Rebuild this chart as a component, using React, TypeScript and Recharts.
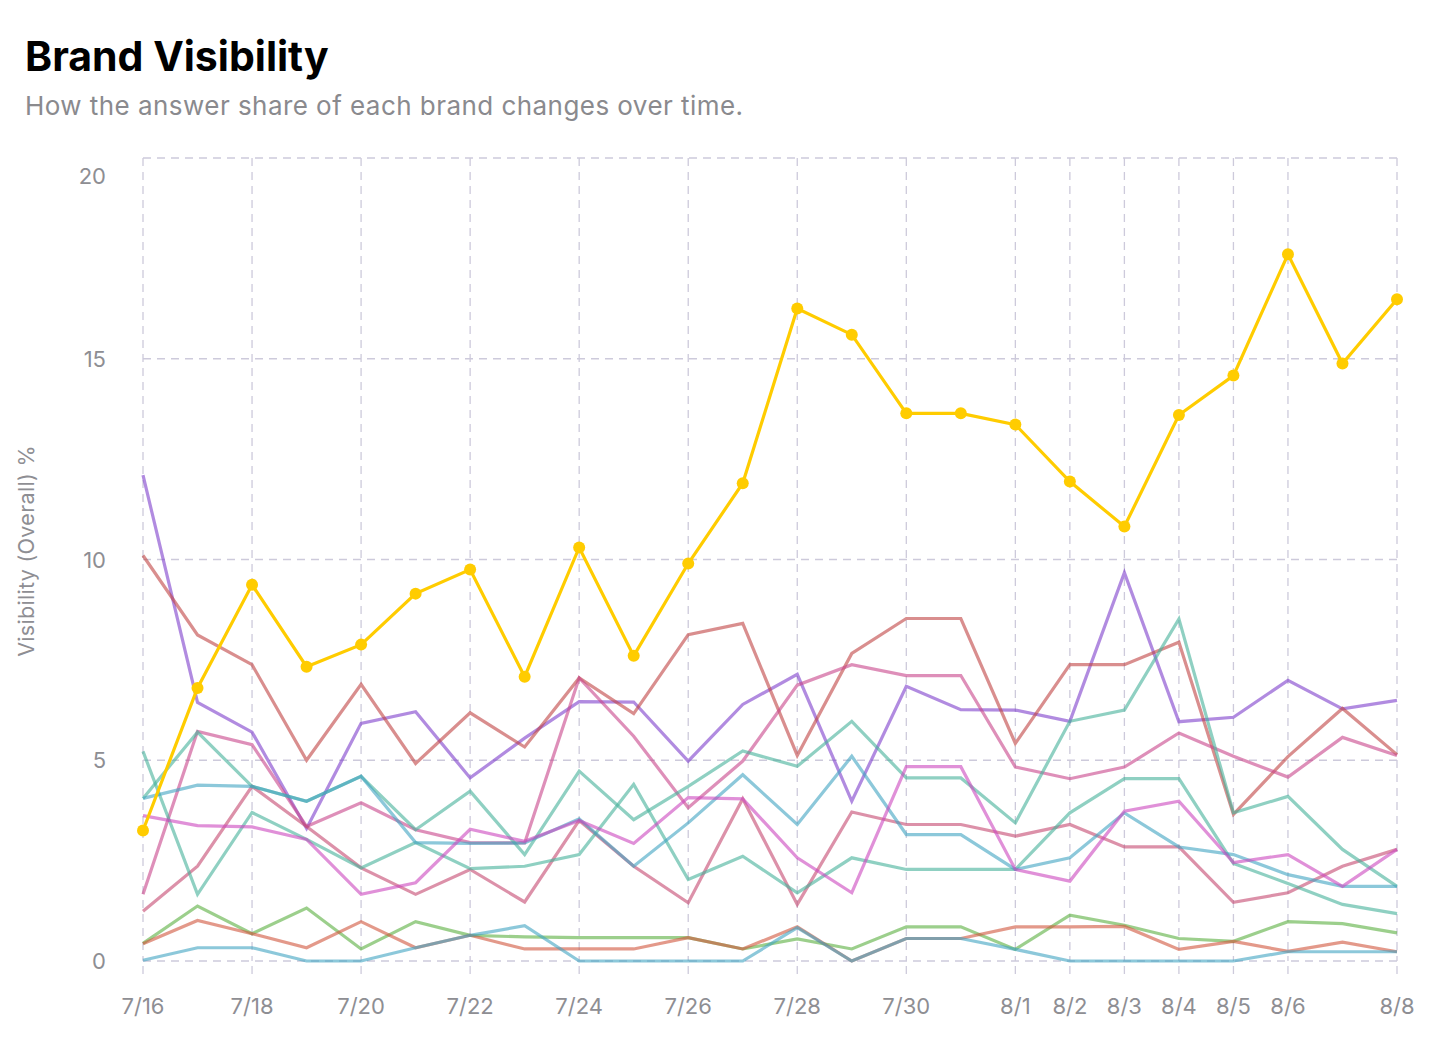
import React from 'react';
import { LineChart, Line, XAxis, YAxis, CartesianGrid, Label } from 'recharts';

// one point per day, 7/16 .. 8/8
const dates = [
  '7/16', '7/17', '7/18', '7/19', '7/20', '7/21', '7/22', '7/23', '7/24', '7/25', '7/26', '7/27',
  '7/28', '7/29', '7/30', '7/31', '8/1', '8/2', '8/3', '8/4', '8/5', '8/6', '8/7', '8/8',
];

const xTicks = ['7/16', '7/18', '7/20', '7/22', '7/24', '7/26', '7/28', '7/30', '8/1', '8/2', '8/3', '8/4', '8/5', '8/6', '8/8'];
const yTicks = [0, 5, 10, 15, 20];

const brandA = [3.25, 6.8, 9.37, 7.33, 7.88, 9.15, 9.75, 7.08, 10.3, 7.6, 9.9, 11.9, 16.25, 15.6, 13.64, 13.64, 13.36, 11.94, 10.82, 13.6, 14.58, 17.6, 14.88, 16.48];
const brandB = [12.1, 6.44, 5.7, 3.3, 5.92, 6.21, 4.56, 5.55, 6.46, 6.45, 4.98, 6.39, 7.14, 3.98, 6.84, 6.26, 6.25, 5.97, 9.67, 5.96, 6.07, 6.99, 6.28, 6.49];
const brandC = [10.1, 8.12, 7.38, 5.0, 6.89, 4.92, 6.18, 5.33, 7.05, 6.16, 8.13, 8.41, 5.12, 7.66, 8.53, 8.53, 5.42, 7.38, 7.38, 7.94, 3.65, 5.09, 6.29, 5.14];
const brandD = [1.66, 5.72, 5.39, 3.35, 3.94, 3.27, 2.95, 2.94, 7.05, 5.6, 3.82, 4.98, 6.87, 7.38, 7.11, 7.11, 4.83, 4.54, 4.83, 5.68, 5.1, 4.58, 5.57, 5.12];
const brandE = [1.24, 2.36, 4.35, 3.35, 2.32, 1.66, 2.28, 1.47, 3.5, 2.36, 1.45, 4.04, 1.41, 3.71, 3.4, 3.4, 3.11, 3.4, 2.84, 2.84, 1.46, 1.7, 2.36, 2.78];
const brandF = [5.22, 1.66, 3.7, 3.03, 2.32, 2.95, 2.3, 2.36, 2.65, 4.4, 2.03, 2.61, 1.7, 2.57, 2.28, 2.28, 2.28, 3.69, 4.54, 4.54, 2.43, 1.93, 1.41, 1.18];
const brandG = [4.05, 5.7, 4.35, 3.98, 4.6, 3.27, 4.23, 2.65, 4.73, 3.52, 4.35, 5.23, 4.85, 5.97, 4.56, 4.56, 3.44, 5.97, 6.25, 8.52, 3.69, 4.1, 2.78, 1.86];
const brandH = [4.05, 4.38, 4.35, 3.98, 4.6, 2.95, 2.93, 2.94, 3.54, 2.36, 3.44, 4.64, 3.4, 5.1, 3.15, 3.15, 2.28, 2.57, 3.69, 2.84, 2.65, 2.15, 1.86, 1.86];
const brandI = [3.62, 3.37, 3.34, 3.03, 1.66, 1.95, 3.28, 2.98, 3.5, 2.93, 4.07, 4.04, 2.57, 1.7, 4.84, 4.84, 2.28, 1.99, 3.73, 3.98, 2.45, 2.65, 1.86, 2.78];
const brandJ = [0.44, 1.37, 0.68, 1.32, 0.3, 0.98, 0.64, 0.6, 0.58, 0.58, 0.58, 0.3, 0.55, 0.3, 0.85, 0.85, 0.29, 1.14, 0.89, 0.56, 0.49, 0.98, 0.93, 0.7];
const brandK = [0.43, 1.01, 0.68, 0.33, 0.98, 0.33, 0.64, 0.3, 0.3, 0.3, 0.58, 0.3, 0.85, 0, 0.56, 0.56, 0.85, 0.85, 0.86, 0.29, 0.49, 0.24, 0.47, 0.23];
const brandL = [0.02, 0.33, 0.33, 0, 0, 0.33, 0.64, 0.88, 0, 0, 0, 0, 0.83, 0, 0.56, 0.56, 0.29, 0, 0, 0, 0, 0.23, 0.23, 0.23];

const others: [string, number[], string][] = [
  ['brandB', brandB, '#7d3ecb'],
  ['brandC', brandC, '#c04343'],
  ['brandD', brandD, '#c8448a'],
  ['brandE', brandE, '#c4476f'],
  ['brandF', brandF, '#44b199'],
  ['brandG', brandG, '#44b199'],
  ['brandH', brandH, '#3fa3c1'],
  ['brandI', brandI, '#cb46be'],
  ['brandJ', brandJ, '#5aaf3f'],
  ['brandK', brandK, '#d0553c'],
  ['brandL', brandL, '#3fa3c1'],
];

const data = dates.map((date, i) => {
  const row: Record<string, any> = { date, brandA: brandA[i] };
  others.forEach(([key, values]) => {
    row[key] = values[i];
  });
  return row;
});

const gridColor = '#cdcadb';
const tickColor = '#8e8e93';
const font = 'Inter, "Noto Sans", sans-serif';

const YTick = ({ x, y, payload }: any) => (
  <text
    x={x}
    y={payload.value === 20 ? y + 18 : y}
    textAnchor="end"
    dominantBaseline="central"
    fill={tickColor}
    fontSize={22}
    fontFamily={font}
  >
    {payload.value}
  </text>
);

const XTick = ({ x, y, payload }: any) => (
  <text x={x} y={y} dy="0.71em" textAnchor="middle" fill={tickColor} fontSize={22} fontFamily={font}>
    {payload.value}
  </text>
);

const App = () => {
  return (
    <div style={{ position: 'absolute', left: 0, top: 0, width: 1436, height: 1048, background: '#fff', fontFamily: font }}>
      <svg width={1436} height={140} style={{ position: 'absolute', left: 0, top: 0 }}>
        <text x={25} y={71} fontSize={41} fontWeight={700} fill="#000" fontFamily={font}>
          Brand Visibility
        </text>
        <text x={25} y={115} fontSize={26} letterSpacing={0.45} fill="#8a8a8e" fontFamily={font}>
          How the answer share of each brand changes over time.
        </text>
      </svg>
      <div style={{ position: 'absolute', left: 0, top: 0 }}>
        <LineChart width={1436} height={1048} data={data} margin={{ top: 158, right: 39, bottom: 0, left: 0 }}>
          <CartesianGrid stroke={gridColor} strokeWidth={1.3} strokeDasharray="8 6" />
          <XAxis
            dataKey="date"
            ticks={xTicks}
            interval={0}
            height={87}
            axisLine={false}
            tickSize={13}
            tickMargin={24}
            tickLine={{ stroke: gridColor, strokeWidth: 1.3, strokeDasharray: '8 6' }}
            tick={<XTick />}
          />
          <YAxis
            type="number"
            domain={[0, 20]}
            ticks={yTicks}
            width={143}
            axisLine={false}
            tickLine={false}
            tickSize={0}
            tickMargin={37}
            tick={<YTick />}
          >
            <Label
              content={() => (
                <text
                  x={26}
                  y={551}
                  transform="rotate(-90 26 551)"
                  textAnchor="middle"
                  dominantBaseline="central"
                  fill={tickColor}
                  fontSize={21.5}
                  letterSpacing={0.3}
                  fontFamily={font}
                >
                  Visibility (Overall) %
                </text>
              )}
            />
          </YAxis>
          {others.map(([key, , color]) => (
            <Line
              key={key}
              type="linear"
              dataKey={key}
              stroke={color}
              strokeOpacity={0.6}
              strokeWidth={3.2}
              dot={false}
              activeDot={false}
              isAnimationActive={false}
            />
          ))}
          <Line
            type="linear"
            dataKey="brandA"
            stroke="#ffcc00"
            strokeWidth={3.2}
            dot={{ r: 6, fill: '#ffcc00', stroke: 'none' }}
            activeDot={false}
            isAnimationActive={false}
          />
        </LineChart>
      </div>
    </div>
  );
};

export default App;
